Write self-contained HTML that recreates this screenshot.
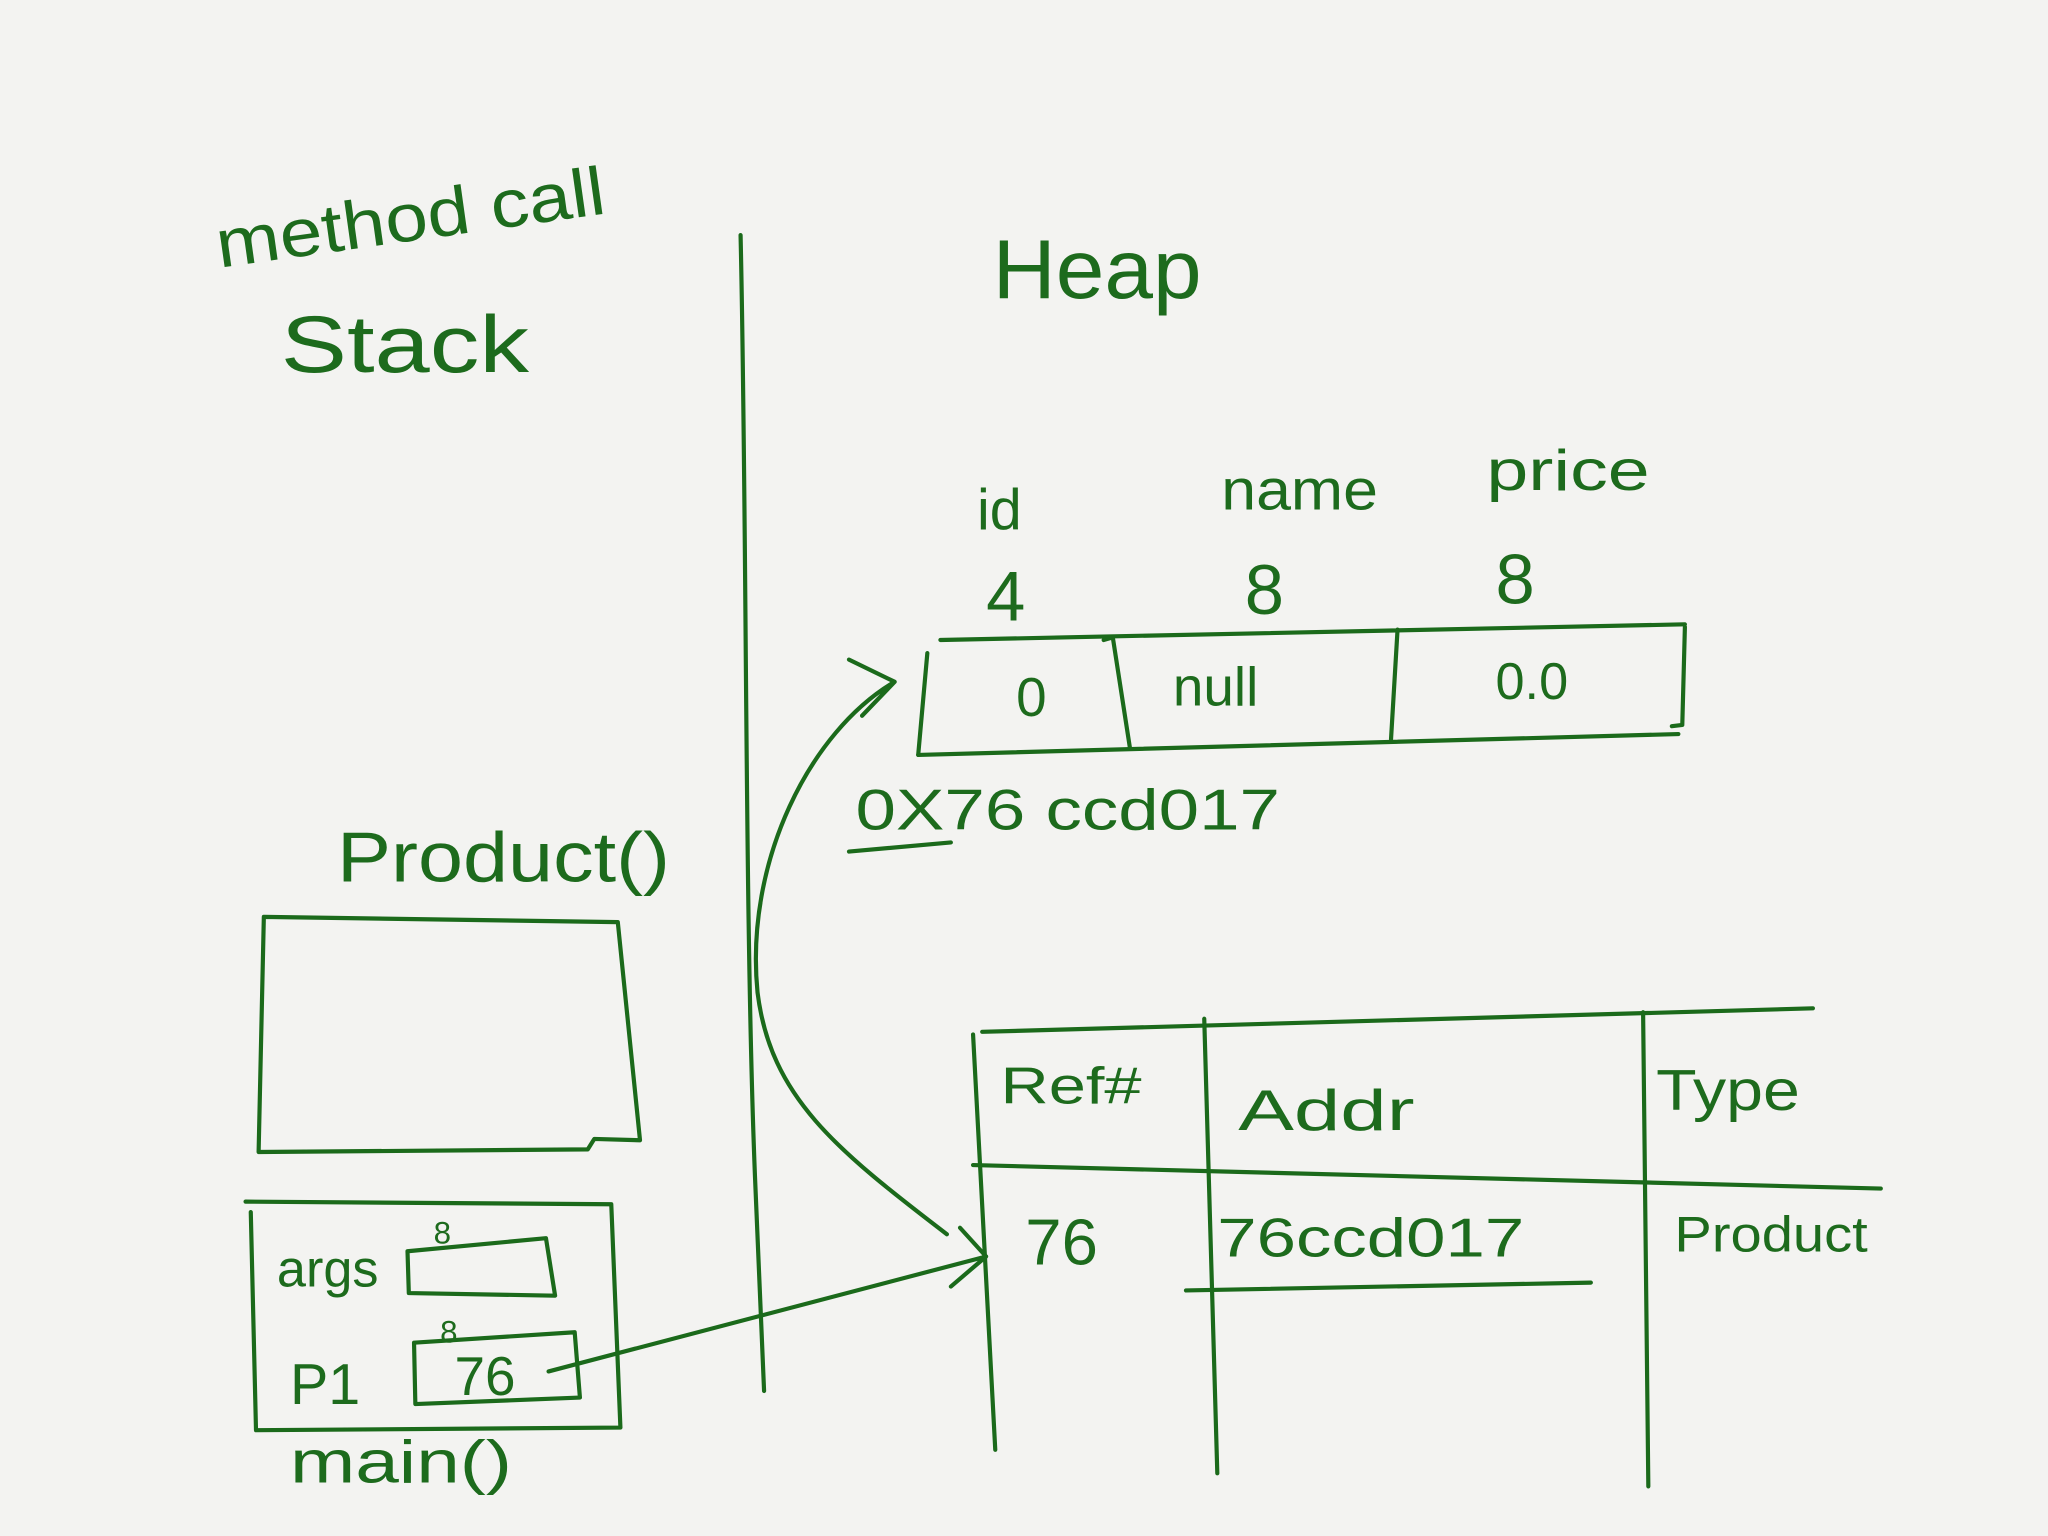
<!DOCTYPE html>
<html><head><meta charset="utf-8"><style>
html,body{margin:0;padding:0;background:#f3f3f1;}
svg{display:block;}
text{font-family:"Liberation Sans",sans-serif;fill:#1d6b1d;}
</style></head><body>
<svg width="2048" height="1536" viewBox="0 0 1568 1176" xmlns="http://www.w3.org/2000/svg">
<rect width="1568" height="1176" fill="#f3f3f1"/>
<g fill="none" stroke="#1b6a1b" stroke-width="3.2" stroke-linecap="round" stroke-linejoin="round">
<path d="M567,180 C572,400 570,700 578,900 L585,1065"/>
<g>
<path d="M720,490 L1290,478"/><path d="M703,578 L1285,562"/>
<path d="M710,500 L703,578"/><path d="M1290,480 L1288,555 L1280,556"/>
<path d="M845,490 L852,488 L865,572"/><path d="M1070,482 L1065,566"/>
</g>
<path d="M650,652 L728,645"/>
<path d="M202,702 L473,706 L490,873 L455,872 L450,880 L198,882 Z"/>
<g>
<path d="M188,920 L468,922 L475,1093 L196,1095 L192,928"/>
<path d="M312,958 L418,948 L425,992 L313,990 Z"/>
<path d="M317,1028 L440,1020 L444,1070 L318,1075 Z"/>
</g>
<path d="M420,1050 L755,962 M735,940 L755,962 L728,985"/>
<path d="M725,945 C640,880 590,840 580,760 C570,660 620,560 685,522 M650,505 L685,522 L660,548"/>
<g>
<path d="M752,790 L1388,772"/><path d="M745,892 L1440,910"/>
<path d="M745,792 L762,1110"/><path d="M922,780 L932,1128"/><path d="M1258,775 L1262,1138"/>
<path d="M908,988 L1218,982"/>
</g>
</g>
<g font-size="48">
<text x="168" y="205" font-size="52" textLength="300" lengthAdjust="spacingAndGlyphs" transform="rotate(-8 168 205)">method call</text>
<text x="215" y="285" font-size="62" textLength="190" lengthAdjust="spacingAndGlyphs">Stack</text>
<text x="760" y="228" font-size="64" textLength="160" lengthAdjust="spacingAndGlyphs">Heap</text>
<text x="748" y="405" font-size="44">id</text>
<text x="935" y="390" font-size="44" textLength="120" lengthAdjust="spacingAndGlyphs">name</text>
<text x="1138" y="375" font-size="44" textLength="125" lengthAdjust="spacingAndGlyphs">price</text>
<text x="755" y="475" font-size="54">4</text>
<text x="953" y="470" font-size="54">8</text>
<text x="1145" y="462" font-size="54">8</text>
<text x="778" y="548" font-size="42">0</text>
<text x="898" y="540" font-size="42">null</text>
<text x="1145" y="535" font-size="40">0.0</text>
<text x="655" y="635" font-size="44" textLength="325" lengthAdjust="spacingAndGlyphs">0X76 ccd017</text>
<text x="258" y="675" font-size="54" textLength="255" lengthAdjust="spacingAndGlyphs">Product()</text>
<text x="212" y="985" font-size="40">args</text>
<text x="332" y="952" font-size="24">8</text>
<text x="222" y="1075" font-size="44">P1</text>
<text x="337" y="1028" font-size="24">8</text>
<text x="348" y="1068" font-size="42">76</text>
<text x="222" y="1135" font-size="46" textLength="170" lengthAdjust="spacingAndGlyphs">main()</text>
<text x="766" y="845" font-size="40" textLength="108" lengthAdjust="spacingAndGlyphs">Ref#</text>
<text x="948" y="865" font-size="44" textLength="135" lengthAdjust="spacingAndGlyphs">Addr</text>
<text x="1268" y="850" font-size="44" textLength="110" lengthAdjust="spacingAndGlyphs">Type</text>
<text x="785" y="968" font-size="50">76</text>
<text x="932" y="962" font-size="42" textLength="235" lengthAdjust="spacingAndGlyphs">76ccd017</text>
<text x="1282" y="958" font-size="38" textLength="148" lengthAdjust="spacingAndGlyphs">Product</text>
</g>
</svg>
</body></html>
